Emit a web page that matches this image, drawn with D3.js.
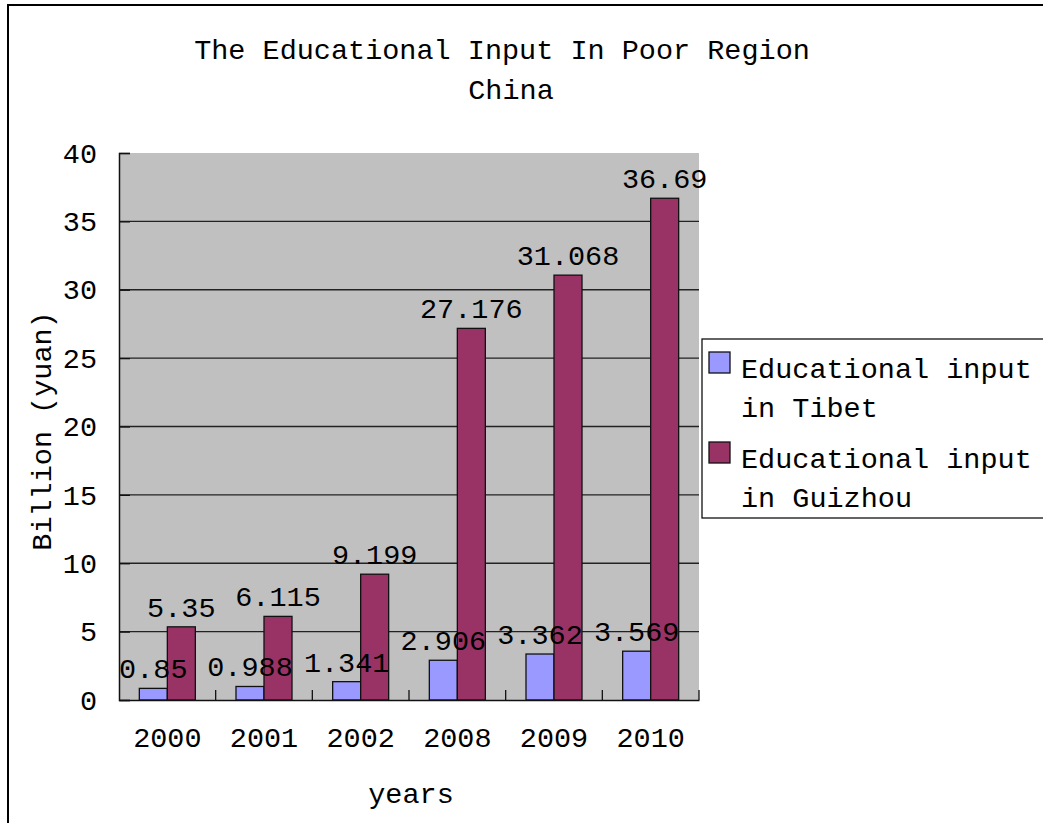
<!DOCTYPE html>
<html><head><meta charset="utf-8">
<script src="https://cdn.jsdelivr.net/npm/d3@7"></script>
<style>html,body{margin:0;padding:0;background:#fff;overflow:hidden}</style>
</head><body>
<script>
const years = ["2000","2001","2002","2008","2009","2010"];
const seriesNames = ["Educational input in Tibet","Educational input in Guizhou"];
const tibet = [0.85, 0.988, 1.341, 2.906, 3.362, 3.569];
const guizhou = [5.35, 6.115, 9.199, 27.176, 31.068, 36.69];
const tibetLabels = ["0.85","0.988","1.341","2.906","3.362","3.569"];
const guizhouLabels = ["5.35","6.115","9.199","27.176","31.068","36.69"];
const yTicks = [0,5,10,15,20,25,30,35,40];
const colors = ["#9999FF","#993366"];

const W=1043,H=823;
const FONT = "'Liberation Mono', 'DejaVu Sans Mono', monospace";
const FS = 28.5;
const svg = d3.select("body").append("svg").attr("width",W).attr("height",H);
svg.append("rect").attr("x",0).attr("y",0).attr("width",W).attr("height",H).attr("fill","#fff");
// outer chart border (clipped right/bottom)
svg.append("rect").attr("x",8).attr("y",5).attr("width",1060).attr("height",840)
  .attr("fill","none").attr("stroke","#000").attr("stroke-width",2);

const L=119,R=699,T=153,B=700;
const y = d3.scaleLinear().domain([0,40]).range([B,T]);
const x0 = d3.scaleBand().domain(years).range([L,R]);
const x1 = d3.scaleBand().domain([0,1]).range([0,x0.bandwidth()]).paddingOuter(0.726);

// plot background
svg.append("rect").attr("x",L).attr("y",T).attr("width",R-L).attr("height",B-T).attr("fill","#C0C0C0");
// gridlines
svg.append("g").selectAll("line").data(yTicks.filter(d=>d>0&&d<40)).join("line")
  .attr("x1",L).attr("x2",R).attr("y1",d=>y(d)).attr("y2",d=>y(d))
  .attr("stroke","#222").attr("stroke-width",1.3);

// bars
const data = years.map((yr,i)=>({yr, vals:[tibet[i],guizhou[i]], labels:[tibetLabels[i],guizhouLabels[i]]}));
const g = svg.append("g").selectAll("g").data(data).join("g").attr("transform",d=>`translate(${x0(d.yr)},0)`);
g.selectAll("rect").data(d=>d.vals.map((v,k)=>({v,k}))).join("rect")
  .attr("x",d=>x1(d.k)).attr("width",x1.bandwidth())
  .attr("y",d=>y(d.v)).attr("height",d=>y(0)-y(d.v))
  .attr("fill",d=>colors[d.k]).attr("stroke","#111").attr("stroke-width",1.3);

// axes
const yAxis = d3.axisLeft(y).tickValues(yTicks).tickSize(-11).tickPadding(22);
const ya = svg.append("g").attr("transform",`translate(${L},0)`).call(yAxis);
ya.select(".domain").attr("stroke","#111").attr("stroke-width",1.5);
ya.selectAll(".tick line").attr("stroke","#111").attr("stroke-width",1.3);
ya.selectAll("text").attr("font-family",FONT).attr("font-size",FS).attr("fill","#000");

const xAxis = d3.axisBottom(x0).tickSize(0).tickPadding(27);
const xa = svg.append("g").attr("transform",`translate(0,${B})`).call(xAxis);
xa.select(".domain").attr("stroke","#111").attr("stroke-width",1.5);
xa.selectAll("text").attr("font-family",FONT).attr("font-size",FS).attr("fill","#000");
// category boundary ticks pointing up
svg.append("g").selectAll("line").data(years.slice(1).concat(["end"])).join("line")
  .attr("x1",d=>d==="end"?R:x0(d)).attr("x2",d=>d==="end"?R:x0(d))
  .attr("y1",B).attr("y2",B-10).attr("stroke","#111").attr("stroke-width",1.3);

// data labels
g.selectAll("text.lbl").data(d=>d.vals.map((v,k)=>({v,k,t:d.labels[k]}))).join("text").attr("class","lbl")
  .attr("x",d=>x1(d.k)+x1.bandwidth()/2).attr("y",d=>y(d.v)-10)
  .attr("text-anchor","middle").attr("font-family",FONT).attr("font-size",FS).attr("fill","#000")
  .text(d=>d.t);

// title
const title = svg.append("text").attr("font-family",FONT).attr("font-size",FS).attr("fill","#000").attr("text-anchor","middle");
title.append("tspan").attr("x",502).attr("y",59).text("The Educational Input In Poor Region");
title.append("tspan").attr("x",511).attr("y",99).text("China");

// axis titles
svg.append("text").attr("transform","translate(51,431) rotate(-90)").attr("text-anchor","middle")
  .attr("font-family",FONT).attr("font-size",FS).attr("fill","#000").text("Billion (yuan)");
svg.append("text").attr("x",411).attr("y",803).attr("text-anchor","middle")
  .attr("font-family",FONT).attr("font-size",FS).attr("fill","#000").text("years");

// legend
const lg = svg.append("g");
lg.append("rect").attr("x",702).attr("y",339).attr("width",400).attr("height",179)
  .attr("fill","#fff").attr("stroke","#111").attr("stroke-width",1.3);
const legendLines = [["Educational input","in Tibet"],["Educational input","in Guizhou"]];
const lgTop = [352, 442];
seriesNames.forEach((s,i)=>{
  lg.append("rect").attr("x",709).attr("y",lgTop[i]).attr("width",21).attr("height",21)
    .attr("fill",colors[i]).attr("stroke","#111").attr("stroke-width",1.3);
  const t = lg.append("text").attr("font-family",FONT).attr("font-size",FS).attr("fill","#000");
  t.append("tspan").attr("x",741).attr("y",lgTop[i]+26).text(legendLines[i][0]);
  t.append("tspan").attr("x",741).attr("y",lgTop[i]+65).text(legendLines[i][1]);
});
</script>
</body></html>
